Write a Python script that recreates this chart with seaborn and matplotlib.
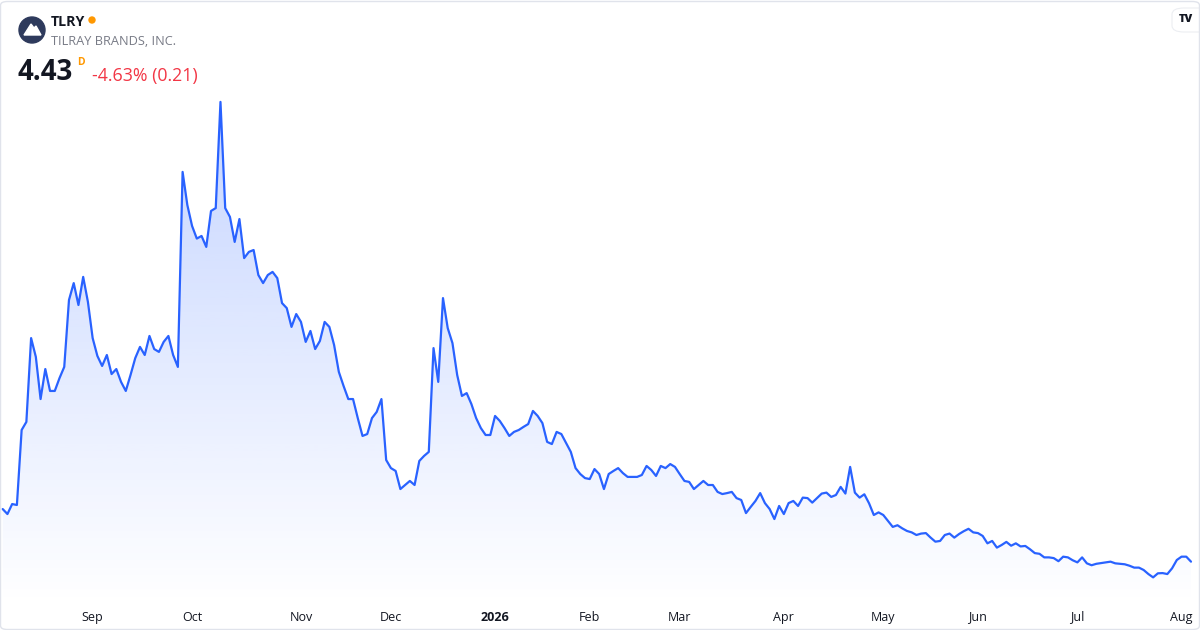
import numpy as np
import pandas as pd
import matplotlib
matplotlib.use("Agg")
import matplotlib.pyplot as plt
import seaborn as sns
from matplotlib.patches import FancyBboxPatch, Ellipse, Polygon

# ---------------- data ----------------
ticker = "TLRY"
company = "TILRAY BRANDS, INC."
last_price = "4.43"
interval_tag = "D"
change_text = "-4.63% (0.21)"
start_date = "2025-08-05"
end_date = "2026-08-05"
market_holidays = ["2025-09-01", "2025-11-27", "2025-12-25", "2026-01-01",
                   "2026-01-19", "2026-02-16", "2026-04-03", "2026-05-25",
                   "2026-06-19", "2026-07-03"]
close = [
    6.64, 6.43, 6.85, 6.81, 9.96, 10.30, 13.82, 13.03, 11.26, 12.52,
    11.60, 11.60, 12.14, 12.61, 15.42, 16.13, 15.21, 16.39, 15.34, 13.82,
    13.07, 12.65, 13.11, 12.31, 12.52, 11.98, 11.60, 12.27, 12.98, 13.45,
    13.11, 13.91, 13.36, 13.24, 13.66, 13.91, 13.11, 12.61, 20.80, 19.41,
    18.53, 18.00, 18.11, 17.65, 19.16, 19.28, 23.74, 19.28, 18.91, 17.86,
    18.82, 17.18, 17.44, 17.52, 16.47, 16.13, 16.47, 16.60, 16.34, 15.29,
    15.08, 14.29, 14.83, 14.50, 13.66, 14.12, 13.36, 13.70, 14.50, 14.29,
    13.53, 12.40, 11.81, 11.26, 11.26, 10.46, 9.71, 9.79, 10.46, 10.72,
    11.26, 8.70, 8.36, 8.24, 7.48, 7.65, 7.82, 7.65, 8.66, 8.87,
    9.04, 13.40, 11.98, 15.50, 14.24, 13.61, 12.27, 11.39, 11.51, 11.05,
    10.46, 10.04, 9.75, 9.75, 10.55, 10.34, 10.04, 9.71, 9.88, 9.96,
    10.09, 10.21, 10.76, 10.55, 10.25, 9.46, 9.37, 9.88, 9.79, 9.41,
    9.04, 8.36, 8.11, 7.94, 7.90, 8.32, 8.11, 7.48, 8.11, 8.24,
    8.36, 8.15, 7.99, 7.99, 7.99, 8.07, 8.45, 8.28, 8.03, 8.45,
    8.36, 8.53, 8.41, 8.11, 7.82, 7.78, 7.48, 7.65, 7.82, 7.65,
    7.65, 7.36, 7.27, 7.31, 7.36, 7.10, 7.02, 6.47, 6.73, 6.98,
    7.31, 6.89, 6.64, 6.22, 6.77, 6.43, 6.89, 6.98, 6.77, 7.12,
    7.10, 6.91, 7.10, 7.29, 7.33, 7.15, 7.23, 7.57, 7.29, 8.41,
    7.33, 7.12, 7.26, 6.88, 6.39, 6.50, 6.39, 6.14, 5.89, 5.96,
    5.83, 5.72, 5.66, 5.55, 5.61, 5.63, 5.44, 5.27, 5.30, 5.55,
    5.61, 5.44, 5.59, 5.71, 5.81, 5.66, 5.63, 5.51, 5.20, 5.30,
    5.02, 5.13, 5.26, 5.10, 5.20, 5.07, 5.09, 4.95, 4.79, 4.76,
    4.61, 4.61, 4.58, 4.45, 4.64, 4.61, 4.49, 4.40, 4.61, 4.36,
    4.28, 4.34, 4.37, 4.40, 4.43, 4.36, 4.34, 4.32, 4.26, 4.18,
    4.18, 4.08, 3.91, 3.77, 3.94, 3.95, 3.91, 4.15, 4.50, 4.64,
    4.64, 4.43,
]

dates = pd.bdate_range(start_date, end_date, freq="C", holidays=market_holidays)
n = min(len(dates), len(close))
df = pd.DataFrame({"date": dates[:n], "close": close[:n]})
df["i"] = np.arange(n)

first_idx = df.groupby(df["date"].dt.to_period("M"))["i"].min().iloc[1:]
tick_pos = list(first_idx.values)
tick_labels = ["2026" if p.month == 1 else p.strftime("%b") for p in first_idx.index]

# ---------------- style ----------------
sns.set_theme(style="white")
plt.rcParams["font.family"] = ["Open Sans", "DejaVu Sans"]

W, H = 1200, 630
fig = plt.figure(figsize=(W / 100, H / 100), dpi=100)
fig.patch.set_facecolor("white")

def fx(x):
    return x / W

def fy(y):
    return 1 - y / H

ax = fig.add_axes([0, fy(605), 1, (605 - 90) / H])
ax.set_facecolor("none")

line_color = "#2962ff"
y0, y1 = 2.61, 24.24
ax.set_xlim(-0.57, 252.9)
ax.set_ylim(y0, y1)

# gradient area fill
poly = ax.fill_between(df["i"], df["close"], y0, color="none", lw=0)
grad = np.zeros((256, 1, 4))
grad[:, 0, 0] = 41 / 255
grad[:, 0, 1] = 98 / 255
grad[:, 0, 2] = 1.0
grad[:, 0, 3] = np.linspace(0.27, 0.0, 256)
im = ax.imshow(grad, aspect="auto", origin="upper",
               extent=(-0.57, 252.9, y0, df["close"].max()), zorder=1,
               interpolation="bilinear")
im.set_clip_path(poly.get_paths()[0], transform=ax.transData)

sns.lineplot(data=df, x="i", y="close", color=line_color, lw=1.6, ax=ax, zorder=3)

ax.set_xlim(-0.57, 252.9)
ax.set_ylim(y0, y1)
ax.set_xlabel("")
ax.set_ylabel("")
ax.set_yticks([])
ax.set_xticks(tick_pos)
ax.set_xticklabels(tick_labels)
ax.tick_params(axis="x", length=0, pad=4, labelsize=9, labelcolor="#131722")
for lab in ax.get_xticklabels():
    if lab.get_text() == "2026":
        lab.set_fontweight("bold")
for s in ax.spines.values():
    s.set_visible(False)

# ---------------- frame ----------------
frame = FancyBboxPatch((fx(0.5), fy(629.5)), fx(1199), 628 / H,
                       boxstyle="round,pad=0,rounding_size=0.006",
                       transform=fig.transFigure, fill=False,
                       ec="#e0e3eb", lw=1.0, zorder=10)
fig.patches.append(frame)

# ---------------- header ----------------
def circle(cx, cy, r, color, z=5):
    return Ellipse((fx(cx), fy(cy)), 2 * r / W, 2 * r / H,
                   transform=fig.transFigure, color=color, zorder=z)

fig.patches.append(circle(32, 30, 13, "#2e3a5c"))
mountain = Polygon([(fx(24), fy(35)), (fx(31), fy(24)), (fx(34), fy(28)),
                    (fx(36), fy(26)), (fx(41), fy(35))],
                   closed=True, transform=fig.transFigure, color="white", zorder=6)
fig.patches.append(mountain)

fig.text(fx(51), fy(26.5), ticker, fontsize=10.2, fontweight="bold",
         color="#131722", ha="left", va="baseline")
fig.patches.append(circle(92, 20, 3, "#ff9800"))
fig.text(fx(51), fy(45), company, fontsize=9.2, color="#787b86",
         ha="left", va="baseline")
fig.text(fx(18), fy(80), last_price, fontsize=20, fontweight="bold",
         color="#131722", ha="left", va="baseline")
fig.text(fx(77), fy(65), interval_tag, fontsize=7.5, fontweight="bold",
         color="#ff9800", ha="left", va="baseline")
fig.text(fx(92), fy(81), change_text, fontsize=12.8, color="#f23645",
         ha="left", va="baseline")

# TradingView badge
badge = FancyBboxPatch((fx(1172), fy(32)), fx(40), 24 / H,
                       boxstyle="round,pad=0,rounding_size=0.01",
                       transform=fig.transFigure, fc="white", ec="#eceef2",
                       lw=0.8, zorder=7)
fig.patches.append(badge)
fig.text(fx(1186), fy(20), "TV", fontsize=8, fontweight="heavy",
         color="#131722", ha="center", va="center", zorder=8)

fig.savefig("out.png", dpi=100, facecolor="white")
